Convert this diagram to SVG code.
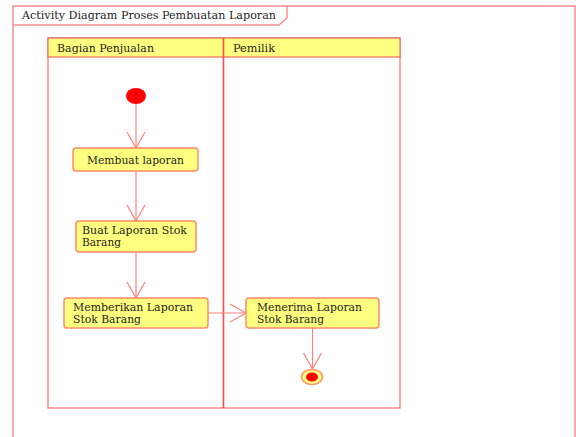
<svg xmlns="http://www.w3.org/2000/svg" width="576" height="437" viewBox="0 0 576 437">
  <style>
    .frame { fill: none; stroke: #ff8f8f; stroke-width: 1.5; }
    .lane { fill: none; stroke: #ff8a8a; stroke-width: 1.5; }
    .laneHead { fill: #ffff80; stroke: #ff6a5a; stroke-width: 1.2; }
    .divider { stroke: #ff4a4a; stroke-width: 1.6; }
    .act { fill: #ffff80; stroke: #ff8a6a; stroke-width: 1.5; }
    .flow { fill: none; stroke: #ff7f7f; stroke-width: 1.2; }
    .t { font-family: "DejaVu Serif", "Liberation Serif", serif; font-size: 11px; fill: #1e1e1e; }
  </style>
  <defs>
    <marker id="open" viewBox="0 0 20 20" refX="18" refY="10" markerWidth="20" markerHeight="20" markerUnits="userSpaceOnUse" orient="auto">
      <path d="M2,1 L18,10 L2,19" fill="none" stroke="#ff7f7f" stroke-width="1.2"/>
    </marker>
  </defs>

  <rect x="0" y="0" width="576" height="437" fill="#ffffff"/>

  <!-- diagram frame with title tab -->
  <g id="frame">
    <path class="frame" d="M13,440 L13,6 L575,6 L575,440"/>
    <path class="frame" d="M13,25 L279,25 L287,18 L287,6"/>
    <text class="t" x="22" y="19" textLength="254" lengthAdjust="spacingAndGlyphs">Activity Diagram Proses Pembuatan Laporan</text>
  </g>

  <!-- swimlanes -->
  <g id="lanes">
    <rect class="lane" x="48" y="38" width="352" height="370"/>
    <rect class="laneHead" x="48" y="38" width="352" height="19"/>
    <line class="divider" x1="223.5" y1="38" x2="223.5" y2="408"/>
    <text class="t" x="57" y="52" textLength="97" lengthAdjust="spacingAndGlyphs">Bagian Penjualan</text>
    <text class="t" x="233" y="52" textLength="42" lengthAdjust="spacingAndGlyphs">Pemilik</text>
  </g>

  <!-- connectors -->
  <g id="connectors">
    <line class="flow" x1="136" y1="104" x2="136" y2="148" marker-end="url(#open)"/>
    <line class="flow" x1="136" y1="171" x2="136" y2="221" marker-end="url(#open)"/>
    <line class="flow" x1="136" y1="252" x2="136" y2="298" marker-end="url(#open)"/>
    <line class="flow" x1="208" y1="313" x2="246" y2="313" marker-end="url(#open)"/>
    <line class="flow" x1="312.5" y1="328" x2="312.5" y2="369" marker-end="url(#open)"/>
  </g>

  <g id="start">
    <ellipse cx="136" cy="96" rx="10" ry="8" fill="#ff0000"/>
  </g>

  <g id="membuat-laporan">
    <rect class="act" x="73" y="148" width="125" height="23" rx="3"/>
    <text class="t" x="87" y="164" textLength="97" lengthAdjust="spacingAndGlyphs">Membuat laporan</text>
  </g>

  <g id="buat-laporan-stok">
    <rect class="act" x="76" y="221" width="120" height="31" rx="3"/>
    <text class="t" x="82" y="234" textLength="105" lengthAdjust="spacingAndGlyphs">Buat Laporan Stok</text>
    <text class="t" x="82" y="246" textLength="39" lengthAdjust="spacingAndGlyphs">Barang</text>
  </g>

  <g id="memberikan-laporan">
    <rect class="act" x="64" y="298" width="144" height="30" rx="3"/>
    <text class="t" x="73" y="311" textLength="120" lengthAdjust="spacingAndGlyphs">Memberikan Laporan</text>
    <text class="t" x="73" y="323" textLength="68" lengthAdjust="spacingAndGlyphs">Stok Barang</text>
  </g>

  <g id="menerima-laporan">
    <rect class="act" x="246" y="298" width="133" height="30" rx="3"/>
    <text class="t" x="257" y="311" textLength="105" lengthAdjust="spacingAndGlyphs">Menerima Laporan</text>
    <text class="t" x="257" y="323" textLength="67" lengthAdjust="spacingAndGlyphs">Stok Barang</text>
  </g>

  <g id="end">
    <ellipse cx="312" cy="377" rx="10.5" ry="7.5" fill="#ffff80" stroke="#ff9a6a" stroke-width="1.5"/>
    <ellipse cx="312" cy="377" rx="6" ry="4.5" fill="#ff0000"/>
  </g>
</svg>
